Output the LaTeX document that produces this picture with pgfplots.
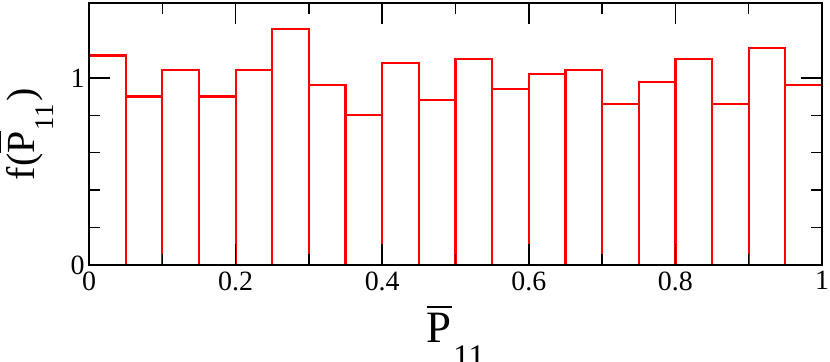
\documentclass[border=0pt]{standalone}
\usepackage{fontspec}
\setmainfont{Liberation Serif}
\usepackage{pgfplots}
\pgfplotsset{compat=1.18}

% P with an overbar, #1 = height of the bar above the baseline
\newcommand{\Pbar}[1]{\makebox[0pt][l]{\kern0.02em\rule[#1]{0.55em}{0.05em}}P}

\begin{document}
\begin{tikzpicture}
\begin{axis}[
    scale only axis,
    width=733bp, height=262bp,
    xmin=0, xmax=1, ymin=0, ymax=1.4,
    xtick={0,0.2,0.4,0.6,0.8,1}, minor x tick num=1,
    ytick={0,1}, minor y tick num=4,
    tick align=inside,
    xtick pos=both, ytick pos=both,
    major tick length=21bp, minor tick length=11bp,
    every tick/.style={black, line width=1.5bp},
    axis line style={line width=2bp},
    axis on top,
    /pgf/number format/assume math mode=true,
    tick label style={font=\rmfamily\fontsize{28}{28}\selectfont},
    xticklabel style={yshift=-3bp},
    yticklabel style={xshift=-1bp},
    every axis x label/.style={at={(axis description cs:0.5,-0.294)}, anchor=base},
    every axis y label/.style={at={(axis description cs:-0.0737,0.5)}, rotate=90, anchor=base},
    xlabel style={font=\rmfamily\fontsize{45}{45}\selectfont},
    ylabel style={font=\rmfamily\fontsize{40}{40}\selectfont},
    xlabel={\Pbar{0.76em}\kern0.04em\raisebox{-0.56em}{\fontsize{33}{33}\selectfont 11}},
    ylabel={f(\Pbar{0.86em}\kern0.03em\raisebox{-0.47em}{\fontsize{27}{27}\selectfont 11}\kern0.08em)},
]
\addplot[ybar interval, draw=red, fill=none, line width=2.2bp] coordinates {
    (0.00,1.12) (0.05,0.90) (0.10,1.04) (0.15,0.90) (0.20,1.04)
    (0.25,1.26) (0.30,0.96) (0.35,0.80) (0.40,1.08) (0.45,0.88)
    (0.50,1.10) (0.55,0.94) (0.60,1.02) (0.65,1.04) (0.70,0.86)
    (0.75,0.98) (0.80,1.10) (0.85,0.86) (0.90,1.16) (0.95,0.96)
    (1.00,0.96)
};
\end{axis}
\pgfresetboundingbox
\path ([shift={(-89bp,-97bp)}]current axis.south west)
      rectangle ([shift={(8bp,3bp)}]current axis.north east);
\end{tikzpicture}
\end{document}
